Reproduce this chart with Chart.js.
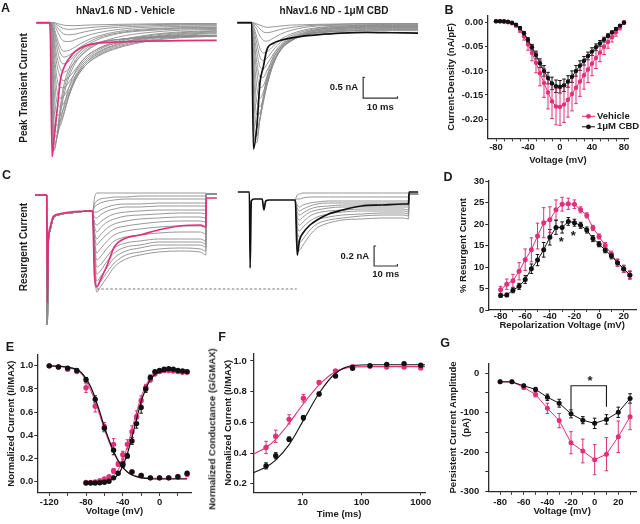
<!DOCTYPE html>
<html>
<head>
<meta charset="utf-8">
<script src="https://cdn.jsdelivr.net/npm/chart.js@4.4.0/dist/chart.umd.min.js"></script>
<style>
  body { margin: 0; background: #fff; }
  #fig { position: relative; width: 640px; height: 524px; overflow: hidden;
         font-family: "Liberation Sans", Arial, Helvetica, sans-serif; color: #1a1a1a; }
  canvas { position: absolute; }
  .t { position: absolute; font-weight: bold; font-size: 10px; line-height: 1; white-space: nowrap;
       transform: translate(-50%, -50%); }
  .letter { font-size: 12.5px; }
  .rot { transform: translate(-50%, -50%) rotate(-90deg); }
</style>
</head>
<body>
<div id="fig">
  <canvas id="cA" width="420" height="170" style="left:0;top:0"></canvas>
  <canvas id="cC" width="420" height="185" style="left:0;top:150px"></canvas>
  <canvas id="cB" width="220" height="175" style="left:420px;top:0"></canvas>
  <canvas id="cD" width="220" height="160" style="left:420px;top:172px"></canvas>
  <canvas id="cE" width="218" height="194" style="left:0;top:330px"></canvas>
  <canvas id="cF" width="220" height="194" style="left:215px;top:330px"></canvas>
  <canvas id="cG" width="210" height="194" style="left:430px;top:330px"></canvas>

  <div class="t letter" style="left:5.5px;top:7.5px">A</div>
  <div class="t letter" style="left:449px;top:10px">B</div>
  <div class="t letter" style="left:6.5px;top:175px">C</div>
  <div class="t letter" style="left:448px;top:177px">D</div>
  <div class="t letter" style="left:10px;top:347px">E</div>
  <div class="t letter" style="left:222px;top:337px">F</div>
  <div class="t letter" style="left:445px;top:343px">G</div>

  <div class="t" style="left:125.5px;top:10.5px">hNav1.6 ND - Vehicle</div>
  <div class="t" style="left:334px;top:10.5px">hNav1.6 ND - 1μM CBD</div>
  <div class="t rot" style="left:23.5px;top:88px">Peak Transient Current</div>
  <div class="t rot" style="left:23.5px;top:247px">Resurgent Current</div>
  <div class="t rot" style="left:211.5px;top:429px;font-size:9.5px">Normalized Conductance (G/GMAX)</div>
</div>

<script>
// ---------- data ----------
// A: peak transient current traces (ms, nA)
const aTimeL = [-3.9, 0, 0.6, 1.2, 2, 3, 4, 5.5, 7.5, 10, 14, 20, 28, 38, 48.6];
const aVehicle = [0, 0, -3.19, -2.75, -2.15, -1.38, -1.08, -0.86, -0.68, -0.56, -0.49, -0.46, -0.44, -0.43, -0.42];
const aGrayL = [
  [0, 0, -2.6, -3.05, -2.7, -2.0, -1.5, -1.1, -0.8, -0.6, -0.47, -0.4, -0.36, -0.34, -0.33],
  [0, 0, -2.2, -3.0, -2.75, -2.1, -1.62, -1.2, -0.88, -0.65, -0.48, -0.4, -0.35, -0.32, -0.31],
  [0, 0, -1.8, -2.9, -2.75, -2.2, -1.75, -1.3, -0.95, -0.7, -0.5, -0.4, -0.34, -0.31, -0.3],
  [0, 0, -1.4, -2.7, -2.7, -2.35, -2.0, -1.55, -1.15, -0.85, -0.62, -0.48, -0.38, -0.33, -0.31],
  [0, 0, -1.0, -2.4, -2.6, -2.45, -2.2, -1.75, -1.35, -1.05, -0.8, -0.6, -0.45, -0.36, -0.32],
  [0, 0, -0.7, -2.0, -2.45, -2.35, -2.15, -1.75, -1.35, -1.05, -0.78, -0.58, -0.43, -0.34, -0.3],
  [0, 0, -0.5, -1.6, -2.2, -2.2, -2.05, -1.7, -1.3, -1.0, -0.75, -0.55, -0.4, -0.3, -0.26],
  [0, 0, -0.35, -1.2, -1.9, -2.0, -1.92, -1.65, -1.3, -1.0, -0.72, -0.52, -0.37, -0.28, -0.24],
  [0, 0, -0.25, -0.9, -1.6, -1.8, -1.75, -1.55, -1.25, -0.95, -0.7, -0.5, -0.35, -0.26, -0.22],
  [0, 0, -0.15, -0.7, -1.3, -1.55, -1.55, -1.42, -1.18, -0.9, -0.66, -0.46, -0.32, -0.24, -0.2],
  [0, 0, -0.1, -0.5, -1.0, -1.3, -1.38, -1.3, -1.1, -0.85, -0.62, -0.43, -0.3, -0.22, -0.19],
  [0, 0, -0.07, -0.37, -0.8, -1.1, -1.18, -1.1, -0.92, -0.72, -0.5, -0.34, -0.24, -0.18, -0.16],
  [0, 0, -0.05, -0.25, -0.6, -0.9, -0.98, -0.92, -0.76, -0.58, -0.4, -0.26, -0.19, -0.15, -0.14],
  [0, 0, -0.03, -0.18, -0.46, -0.72, -0.82, -0.78, -0.66, -0.52, -0.36, -0.24, -0.17, -0.13, -0.12],
  [0, 0, -0.02, -0.12, -0.35, -0.58, -0.68, -0.66, -0.57, -0.45, -0.32, -0.21, -0.15, -0.12, -0.11],
  [0, 0, 0, -0.06, -0.18, -0.35, -0.44, -0.45, -0.4, -0.33, -0.24, -0.16, -0.11, -0.09, -0.08],
  [0, 0, 0, -0.03, -0.1, -0.2, -0.27, -0.29, -0.27, -0.22, -0.16, -0.11, -0.08, -0.06, -0.06],
  [0, 0, 0, -0.01, -0.05, -0.1, -0.14, -0.16, -0.15, -0.13, -0.1, -0.07, -0.05, -0.04, -0.04],
  [0, 0, 0, 0, -0.02, -0.04, -0.06, -0.07, -0.07, -0.06, -0.05, -0.04, -0.03, -0.02, -0.02]
];
const aTimeR = [-4.2, 0, 0.5, 1.5, 2.4, 3.4, 4.4, 6.3, 8.5, 11.2, 15, 19, 26, 33.5, 41, 48.5];
const aCBD = [0, 0, -3.01, -2.48, -1.44, -1.05, -0.65, -0.49, -0.42, -0.37, -0.32, -0.29, -0.25, -0.23, -0.24, -0.25];
const aGrayR = [
  [0, 0, -2.5, -2.85, -2.3, -1.75, -1.3, -0.8, -0.55, -0.4, -0.3, -0.25, -0.21, -0.19, -0.19, -0.19],
  [0, 0, -2.0, -2.7, -2.3, -1.85, -1.4, -0.88, -0.58, -0.42, -0.3, -0.24, -0.2, -0.18, -0.17, -0.17],
  [0, 0, -1.5, -2.5, -2.3, -1.9, -1.5, -0.95, -0.62, -0.44, -0.31, -0.24, -0.19, -0.16, -0.16, -0.16],
  [0, 0, -1.1, -2.2, -2.15, -1.85, -1.5, -0.98, -0.64, -0.45, -0.3, -0.23, -0.17, -0.14, -0.14, -0.14],
  [0, 0, -0.8, -1.9, -2.0, -1.8, -1.5, -1.0, -0.65, -0.45, -0.3, -0.22, -0.16, -0.13, -0.12, -0.12],
  [0, 0, -0.6, -1.55, -1.8, -1.65, -1.4, -0.96, -0.64, -0.44, -0.29, -0.2, -0.14, -0.11, -0.11, -0.11],
  [0, 0, -0.4, -1.2, -1.55, -1.5, -1.3, -0.92, -0.62, -0.42, -0.28, -0.19, -0.13, -0.1, -0.1, -0.1],
  [0, 0, -0.3, -0.95, -1.3, -1.3, -1.15, -0.84, -0.57, -0.39, -0.26, -0.17, -0.12, -0.09, -0.09, -0.09],
  [0, 0, -0.2, -0.7, -1.05, -1.1, -1.0, -0.75, -0.52, -0.36, -0.24, -0.16, -0.11, -0.08, -0.08, -0.08],
  [0, 0, -0.13, -0.5, -0.82, -0.9, -0.85, -0.65, -0.46, -0.32, -0.21, -0.14, -0.09, -0.07, -0.07, -0.07],
  [0, 0, -0.08, -0.35, -0.62, -0.72, -0.7, -0.56, -0.4, -0.28, -0.18, -0.12, -0.08, -0.06, -0.06, -0.06],
  [0, 0, -0.03, -0.16, -0.32, -0.42, -0.44, -0.37, -0.27, -0.19, -0.12, -0.08, -0.06, -0.05, -0.04, -0.04],
  [0, 0, -0.01, -0.07, -0.15, -0.22, -0.24, -0.21, -0.16, -0.12, -0.08, -0.06, -0.04, -0.03, -0.03, -0.03],
  [0, 0, 0, -0.03, -0.06, -0.09, -0.11, -0.1, -0.08, -0.06, -0.05, -0.04, -0.03, -0.02, -0.02, -0.02]
];
const aShiftR = 58.8;
const aBar = { t: 91.3, i: -1.8, dt: 10, di: 0.5 };

// C: resurgent current traces (ms, nA)
const cPreT = [-5, 0, 0.3, 0.6, 1.4, 2.7, 5, 10, 19.5];
const cVehPre = [0, 0, -1.08, -0.5, -0.33, -0.22, -0.19, -0.17, -0.16];
const cGrayPre = [0, 0, -1.3, -0.55, -0.36, -0.24, -0.2, -0.18, -0.16];
const cResT = [19.7, 20.5, 21.5, 23, 26, 29, 34, 40, 48, 57, 66, 68.3];
const cVehRes = [-0.17, -0.8, -0.92, -0.85, -0.7, -0.52, -0.43, -0.4, -0.35, -0.31, -0.3, -0.32];
const cGrayResL = [
  [-0.17, -0.72, -0.97, -0.92, -0.82, -0.72, -0.64, -0.6, -0.57, -0.56, -0.57, -0.6],
  [-0.17, -0.67, -0.92, -0.87, -0.77, -0.68, -0.6, -0.57, -0.54, -0.53, -0.54, -0.56],
  [-0.17, -0.62, -0.86, -0.82, -0.72, -0.63, -0.56, -0.53, -0.5, -0.5, -0.5, -0.52],
  [-0.17, -0.57, -0.79, -0.76, -0.66, -0.58, -0.52, -0.5, -0.47, -0.47, -0.47, -0.49],
  [-0.17, -0.52, -0.72, -0.7, -0.61, -0.53, -0.48, -0.46, -0.44, -0.44, -0.44, -0.46],
  [-0.17, -0.48, -0.65, -0.62, -0.53, -0.46, -0.42, -0.4, -0.38, -0.37, -0.37, -0.39],
  [-0.17, -0.44, -0.58, -0.54, -0.46, -0.4, -0.36, -0.34, -0.32, -0.31, -0.31, -0.32],
  [-0.17, -0.4, -0.5, -0.46, -0.39, -0.34, -0.31, -0.29, -0.27, -0.26, -0.26, -0.27],
  [-0.17, -0.36, -0.44, -0.4, -0.33, -0.29, -0.26, -0.24, -0.23, -0.22, -0.22, -0.23],
  [-0.17, -0.31, -0.37, -0.33, -0.27, -0.24, -0.21, -0.2, -0.19, -0.18, -0.18, -0.19],
  [-0.17, -0.27, -0.3, -0.27, -0.22, -0.19, -0.17, -0.16, -0.15, -0.15, -0.15, -0.15],
  [-0.17, -0.22, -0.23, -0.2, -0.16, -0.14, -0.12, -0.12, -0.11, -0.11, -0.11, -0.11],
  [-0.17, -0.17, -0.17, -0.15, -0.12, -0.1, -0.09, -0.09, -0.08, -0.08, -0.08, -0.08],
  [-0.17, -0.12, -0.1, -0.08, -0.06, -0.05, -0.04, -0.04, -0.04, -0.04, -0.04, -0.04],
  [-0.17, -0.09, -0.06, -0.04, -0.03, -0.02, -0.02, -0.01, -0.01, -0.01, -0.01, -0.01],
  [-0.17, -0.03, 0.02, 0.02, 0.02, 0.02, 0.02, 0.02, 0.02, 0.02, 0.02, 0.02]
];
const cTailT = [68.5, 73];
const cVehTail = [-0.03, -0.03];
const cGrayTail = [0.01, 0.01];
const cCbdPreT = [-5, 0, 0.3, 0.8, 2, 5.5, 6.2, 7, 8.5, 19.5];
const cCbdPre = [0.03, 0.03, -0.73, -0.06, -0.04, -0.04, -0.15, -0.06, -0.05, -0.05];
const cCbdRes = [-0.05, -0.6, -0.45, -0.38, -0.3, -0.25, -0.19, -0.15, -0.11, -0.1, -0.09, -0.09];
const cCbdTailT = [68.5, 72.4];
const cCbdTail = [0.03, 0.03];
const cGrayResR = [
  [-0.05, -0.45, -0.55, -0.5, -0.4, -0.33, -0.28, -0.25, -0.24, -0.23, -0.23, -0.24],
  [-0.05, -0.4, -0.48, -0.44, -0.35, -0.29, -0.25, -0.23, -0.21, -0.2, -0.2, -0.21],
  [-0.05, -0.35, -0.42, -0.38, -0.3, -0.25, -0.22, -0.2, -0.19, -0.18, -0.18, -0.19],
  [-0.05, -0.3, -0.36, -0.32, -0.26, -0.22, -0.19, -0.17, -0.16, -0.16, -0.16, -0.17],
  [-0.05, -0.25, -0.3, -0.27, -0.21, -0.18, -0.16, -0.15, -0.14, -0.14, -0.14, -0.15],
  [-0.05, -0.21, -0.25, -0.22, -0.17, -0.15, -0.13, -0.12, -0.12, -0.12, -0.12, -0.12],
  [-0.05, -0.17, -0.2, -0.18, -0.14, -0.12, -0.11, -0.1, -0.1, -0.1, -0.1, -0.1],
  [-0.05, -0.13, -0.16, -0.14, -0.11, -0.09, -0.08, -0.08, -0.08, -0.08, -0.08, -0.08],
  [-0.05, -0.1, -0.12, -0.1, -0.08, -0.07, -0.06, -0.06, -0.06, -0.06, -0.06, -0.06],
  [-0.05, -0.04, -0.04, -0.03, -0.02, -0.02, -0.02, -0.02, -0.02, -0.02, -0.02, -0.02],
  [-0.05, 0, 0.01, 0.02, 0.02, 0.02, 0.02, 0.02, 0.02, 0.02, 0.02, 0.02]
];
const cShiftR = 87;
const cBar = { t: 140.5, i: -0.71, dt: 10, di: 0.2 };
const cDash = { t0: 21.5, t1: 107.3, level: -0.94 };

// B: current density (nA/pF) vs voltage (mV)
const bVolt = [-80, -75, -70, -65, -60, -55, -50, -45, -40, -35, -30, -25, -20, -15, -10, -5, 0,
  5, 10, 15, 20, 25, 30, 35, 40, 45, 50, 55, 60, 65, 70, 75, 80];
const bVehicle = [0.003, 0.003, 0.002, 0.001, -0.001, -0.006, -0.015, -0.028, -0.045, -0.063, -0.083, -0.105,
  -0.125, -0.145, -0.163, -0.174, -0.175, -0.17, -0.16, -0.148, -0.135, -0.122, -0.109, -0.097, -0.085,
  -0.073, -0.062, -0.05, -0.04, -0.03, -0.02, -0.01, 0.001];
const bVehicleErr = [0.002, 0.002, 0.002, 0.002, 0.002, 0.003, 0.005, 0.008, 0.012, 0.016, 0.021, 0.026, 0.03,
  0.034, 0.036, 0.038, 0.038, 0.037, 0.036, 0.035, 0.033, 0.031, 0.029, 0.027, 0.025, 0.022, 0.019, 0.016,
  0.013, 0.01, 0.008, 0.005, 0.003];
const bCBD = [0.003, 0.003, 0.003, 0.002, 0.0, -0.004, -0.011, -0.022, -0.036, -0.051, -0.067, -0.084, -0.1,
  -0.115, -0.126, -0.132, -0.133, -0.13, -0.122, -0.112, -0.1, -0.089, -0.079, -0.069, -0.06, -0.051, -0.043,
  -0.035, -0.027, -0.02, -0.013, -0.006, 0.0];
const bCBDErr = [0.001, 0.001, 0.001, 0.001, 0.001, 0.002, 0.003, 0.004, 0.005, 0.006, 0.008, 0.009, 0.011,
  0.012, 0.013, 0.013, 0.013, 0.013, 0.012, 0.012, 0.011, 0.01, 0.009, 0.008, 0.008, 0.007, 0.006, 0.005,
  0.004, 0.003, 0.003, 0.002, 0.002];
const bTicksX = [-80, -70, -60, -50, -40, -30, -20, -10, 0, 10, 20, 30, 40, 50, 60, 70, 80];
const bLabelsX = [-80, -40, 0, 40, 80];
const bTicksY = [0, -0.05, -0.1, -0.15, -0.2];

// D: % resurgent current vs repolarization voltage
const dVolt = [-80, -75, -70, -65, -60, -55, -50, -45, -40, -35, -30, -25, -20, -15, -10, -5, 0, 5, 10, 15, 20, 25];
const dVehicle = [4.7, 6.0, 6.8, 9.0, 11.7, 14.0, 17.2, 20.3, 21.0, 23.3, 24.6, 24.7, 24.6, 23.3, 22.0, 19.1,
  17.1, 15.0, 13.0, 11.0, 9.5, 8.2];
const dVehicleErr = [0.8, 1.2, 1.5, 2.0, 2.5, 2.8, 3.0, 3.5, 3.0, 2.3, 1.6, 1.3, 1.0, 0.7, 0.6, 0.6, 0.6, 0.7,
  0.7, 0.8, 0.8, 0.9];
const dCBD = [3.4, 3.5, 4.6, 5.5, 7.1, 9.6, 11.6, 14.0, 16.9, 19.2, 19.2, 20.6, 20.3, 19.7, 18.6, 16.6, 15.3,
  13.9, 12.6, 11.0, 9.6, 8.1];
const dCBDErr = [0.4, 0.4, 0.6, 0.7, 0.9, 1.1, 1.3, 1.7, 1.8, 1.6, 1.3, 0.9, 0.8, 0.7, 0.7, 0.7, 0.6, 0.6,
  0.7, 0.8, 0.8, 0.9];
const dStarX = [-30.7, -20.9];
const dStarY = [16.4, 17.8];
const dTicksX = [-80, -70, -60, -50, -40, -30, -20, -10, 0, 10, 20];
const dLabelsX = [-80, -60, -40, -20, 0, 20];
const dTicksY = [0, 5, 10, 15, 20, 25, 30];

// E: steady-state inactivation (I/Imax) and activation (G/Gmax)
const eInactV = [-120, -110, -100, -90, -80, -70, -60, -50, -40, -30, -20, -10, 0, 10, 20, 30];
const eInactCBD = [1.0, 0.99, 0.98, 0.96, 0.88, 0.71, 0.46, 0.27, 0.15, 0.08, 0.05, 0.03, 0.03, 0.03, 0.04, 0.07];
const eInactCBDErr = [0, 0, 0, 0.01, 0.02, 0.03, 0.03, 0.04, 0.02, 0.01, 0.01, 0.01, 0.01, 0.01, 0.01, 0.01];
const eInactVeh = [1.0, 0.99, 0.97, 0.95, 0.81, 0.65, 0.47, 0.32, 0.16, 0.08, 0.05, 0.03, 0.03, 0.03, 0.04, 0.06];
const eInactVehErr = [0, 0, 0.01, 0.01, 0.04, 0.05, 0.04, 0.05, 0.03, 0.01, 0.01, 0.01, 0.01, 0.01, 0.01, 0.01];
const eActV = [-80, -75, -70, -65, -60, -55, -50, -45, -40, -35, -30, -25, -20, -15, -10, -5, 0, 5, 10, 15, 20, 25, 30];
const eActCBD = [-0.015, -0.015, -0.015, -0.012, -0.008, 0.0, 0.03, 0.07, 0.14, 0.22, 0.35, 0.5, 0.64, 0.8, 0.9,
  0.95, 0.96, 0.97, 0.975, 0.97, 0.96, 0.955, 0.95];
const eActCBDErr = [0, 0, 0, 0, 0, 0.005, 0.01, 0.01, 0.02, 0.02, 0.03, 0.04, 0.05, 0.03, 0.02, 0.01, 0.01, 0.01,
  0.01, 0.01, 0.01, 0.01, 0.01];
const eActVeh = [-0.01, -0.01, -0.005, 0.005, 0.02, 0.04, 0.09, 0.15, 0.23, 0.32, 0.43, 0.56, 0.7, 0.81, 0.88,
  0.93, 0.95, 0.96, 0.96, 0.955, 0.95, 0.945, 0.945];
const eActVehErr = [0, 0, 0, 0, 0.005, 0.01, 0.02, 0.02, 0.03, 0.04, 0.05, 0.05, 0.04, 0.03, 0.02, 0.01, 0.01,
  0.01, 0.01, 0.01, 0.01, 0.01, 0.01];
const eFitInactV = [-122, -110, -100, -90, -85, -80, -75, -70, -65, -60, -55, -50, -45, -40, -35, -30, -25, -20, -10, 0, 10, 30];
const eFitInactCBD = [1.0, 0.998, 0.99, 0.97, 0.94, 0.89, 0.82, 0.72, 0.6, 0.47, 0.36, 0.26, 0.18, 0.12, 0.08,
  0.055, 0.04, 0.03, 0.022, 0.02, 0.02, 0.02];
const eFitInactVeh = [1.0, 0.995, 0.985, 0.96, 0.93, 0.87, 0.79, 0.69, 0.57, 0.45, 0.34, 0.25, 0.17, 0.12, 0.08,
  0.055, 0.045, 0.035, 0.028, 0.025, 0.025, 0.025];
const eFitActV = [-80, -70, -60, -55, -50, -45, -40, -35, -30, -25, -20, -15, -10, -5, 0, 5, 10, 20, 30];
const eFitActCBD = [-0.015, -0.013, -0.005, 0.005, 0.025, 0.06, 0.13, 0.24, 0.38, 0.54, 0.69, 0.8, 0.88, 0.925,
  0.945, 0.955, 0.96, 0.962, 0.962];
const eFitActVeh = [-0.01, -0.005, 0.01, 0.025, 0.05, 0.1, 0.18, 0.3, 0.45, 0.6, 0.73, 0.83, 0.89, 0.925, 0.94,
  0.948, 0.95, 0.952, 0.952];
const eTicksX = [-120, -100, -80, -60, -40, -20, 0, 20];
const eLabelsX = [-120, -80, -40, 0];
const eTicksY = [0, 0.2, 0.4, 0.6, 0.8, 1.0];

// F: recovery from inactivation (I/Imax) vs time (ms)
const fTime = [2.4, 3.5, 5.9, 10.3, 19, 36, 70, 138, 265, 522, 1000];
const fVehicle = [0.437, 0.51, 0.62, 0.757, 0.86, 0.935, 0.962, 0.965, 0.96, 0.96, 0.955];
const fVehicleErr = [0.04, 0.04, 0.03, 0.025, 0.012, 0.008, 0.006, 0.005, 0.005, 0.005, 0.006];
const fCBD = [0.317, 0.383, 0.49, 0.63, 0.785, 0.902, 0.952, 0.97, 0.978, 0.983, 0.972];
const fCBDErr = [0.02, 0.02, 0.015, 0.015, 0.012, 0.01, 0.008, 0.006, 0.006, 0.006, 0.006];
const fFitT = [1.46, 2.4, 3.5, 5.9, 10, 19, 36, 70, 150, 1180];
const fFitVeh = [0.395, 0.437, 0.49, 0.595, 0.715, 0.845, 0.93, 0.96, 0.963, 0.963];
const fFitCBD = [0.272, 0.31, 0.355, 0.455, 0.605, 0.79, 0.92, 0.97, 0.975, 0.975];
const fTicksX = [10, 100, 1000];
const fTicksY = [0.2, 0.4, 0.6, 0.8, 1.0];

// G: persistent current amplitude (pA) vs voltage (mV)
const gVolt = [-80, -70, -60, -50, -40, -30, -20, -10, 0, 10, 20, 30];
const gCBD = [-22, -22, -32, -41, -61, -76, -103, -119, -127, -117, -99, -64];
const gCBDErr = [2, 2, 4, 5, 8, 10, 10, 9, 13, 12, 13, 12];
const gVehicle = [-22, -22, -36, -54, -89, -120, -176, -197, -219, -205, -161, -110];
const gVehicleErr = [2, 2, 5, 6, 13, 18, 28, 30, 38, 42, 40, 33];
const gBracketX = [-20, -20, 10, 10];
const gBracketY = [-93, -32, -32, -85];
const gStar = { x: -4, y: -13 };
const gTicksX = [-80, -70, -60, -50, -40, -30, -20, -10, 0, 10, 20, 30];
const gLabelsX = [-80, -60, -40, -20, 0, 20];
const gTicksY = [0, -50, -100, -150, -200, -250, -300];
const gLabelsY = [0, -100, -200, -300];

// ---------- styling ----------
const ink = '#1a1a1a';
const axisInk = '#2b2b2b';
const pink = '#e0307a';
const blk = '#111111';
const gray = '#8c8c8c';
const fontFam = '"Liberation Sans", Arial, Helvetica, sans-serif';

Chart.defaults.font.family = fontFam;
Chart.defaults.font.weight = 'bold';
Chart.defaults.color = ink;

function pts(xs, ys, dx = 0) {
  return xs.map((x, i) => ({ x: x + dx, y: ys[i] }));
}

function series(xs, ys, color, extra = {}) {
  return Object.assign({
    data: pts(xs, ys),
    borderColor: color, backgroundColor: color,
    pointBackgroundColor: color, pointBorderWidth: 0,
    pointRadius: 2.4, borderWidth: 1, tension: 0
  }, extra);
}

function trace(data, color, width) {
  return { data, borderColor: color, borderWidth: width, pointRadius: 0,
           fill: false, cubicInterpolationMode: 'monotone' };
}

const errorBars = {
  id: 'errorBars',
  beforeDatasetsDraw(chart) {
    const { ctx, scales: { x, y } } = chart;
    chart.data.datasets.forEach(ds => {
      if (!ds.errors) return;
      ctx.save();
      ctx.strokeStyle = ds.borderColor;
      ctx.lineWidth = 1;
      ds.data.forEach((p, i) => {
        const e = ds.errors[i];
        if (!e) return;
        const px = x.getPixelForValue(p.x);
        const y1 = y.getPixelForValue(p.y + e), y2 = y.getPixelForValue(p.y - e);
        ctx.beginPath();
        ctx.moveTo(px, y1); ctx.lineTo(px, y2);
        ctx.moveTo(px - 1.8, y1); ctx.lineTo(px + 1.8, y1);
        ctx.moveTo(px - 1.8, y2); ctx.lineTo(px + 1.8, y2);
        ctx.stroke();
      });
      ctx.restore();
    });
  }
};

function axis(o) {
  const labels = o.labels || o.ticks;
  return {
    type: o.log ? 'logarithmic' : 'linear',
    bounds: 'data',
    min: o.min, max: o.max,
    afterFit: s => { if (s.isHorizontal()) s.height = o.size; else s.width = o.size; },
    afterBuildTicks: s => { s.ticks = o.ticks.map(v => ({ value: v })); },
    ticks: {
      autoSkip: false, maxRotation: 0, minRotation: 0, padding: o.tickPad, color: ink,
      font: { size: 9.5, weight: 'bold', lineHeight: 1 },
      callback: v => labels.includes(v) ? o.fmt(v) : ''
    },
    grid: { drawOnChartArea: false, drawTicks: true, tickLength: o.tickLen || 3, color: axisInk, lineWidth: 1 },
    border: { display: true, color: axisInk, width: 1.3 },
    title: {
      display: true, text: o.title, color: ink,
      font: { size: 9.5, weight: 'bold', lineHeight: o.titleLH || 1.2 },
      padding: { top: o.titlePad, bottom: o.titlePad }
    }
  };
}

function plot(id, datasets, x, y, pad, extra = []) {
  return new Chart(document.getElementById(id), {
    type: 'line',
    data: { datasets },
    options: {
      responsive: false, animation: false, devicePixelRatio: 1,
      layout: { padding: pad },
      plugins: { legend: { display: false }, tooltip: { enabled: false } },
      scales: { x, y }
    },
    plugins: [errorBars, ...extra]
  });
}

function traceChart(id, datasets, xr, yr, extra) {
  return new Chart(document.getElementById(id), {
    type: 'line',
    data: { datasets },
    options: {
      responsive: false, animation: false, devicePixelRatio: 1,
      layout: { padding: 0 },
      plugins: { legend: { display: false }, tooltip: { enabled: false } },
      scales: {
        x: { type: 'linear', display: false, min: xr[0], max: xr[1] },
        y: { type: 'linear', display: false, min: yr[0], max: yr[1] }
      }
    },
    plugins: extra
  });
}

function scaleBar(bar, yText, xText) {
  return {
    id: 'scaleBar',
    afterDatasetsDraw(chart) {
      const { ctx, scales: { x, y } } = chart;
      const xa = x.getPixelForValue(bar.t), xb = x.getPixelForValue(bar.t + bar.dt);
      const ya = y.getPixelForValue(bar.i + bar.di), yb = y.getPixelForValue(bar.i);
      ctx.save();
      ctx.strokeStyle = '#333';
      ctx.lineWidth = 1.2;
      ctx.beginPath();
      ctx.moveTo(xa + 2, ya); ctx.lineTo(xa, ya); ctx.lineTo(xa, yb); ctx.lineTo(xb, yb); ctx.lineTo(xb, yb - 2);
      ctx.stroke();
      ctx.fillStyle = ink;
      ctx.font = 'bold 9.5px ' + fontFam;
      ctx.textAlign = 'right'; ctx.textBaseline = 'middle';
      ctx.fillText(yText, xa - 5, (ya + yb) / 2);
      ctx.textAlign = 'center'; ctx.textBaseline = 'top';
      ctx.fillText(xText, (xa + xb) / 2, yb + 4);
      ctx.restore();
    }
  };
}

function stars(xs, ys) {
  return {
    id: 'stars',
    afterDatasetsDraw(chart) {
      const { ctx, scales: { x, y } } = chart;
      ctx.save();
      ctx.fillStyle = ink;
      ctx.font = 'bold 13px ' + fontFam;
      ctx.textAlign = 'center'; ctx.textBaseline = 'middle';
      xs.forEach((v, i) => ctx.fillText('*', x.getPixelForValue(v), y.getPixelForValue(ys[i]) + 3));
      ctx.restore();
    }
  };
}

// ---------- A: transient current traces ----------
const aSets = [
  trace(pts(aTimeL, aVehicle), pink, 1.7),
  trace(pts(aTimeR, aCBD, aShiftR), blk, 1.7),
  ...aGrayL.map(g => trace(pts(aTimeL, g), gray, 0.9)),
  ...aGrayR.map(g => trace(pts(aTimeR, g, aShiftR), gray, 0.9))
];
traceChart('cA', aSets, [-14.58, 107.87], [-3.51, 0.54], [scaleBar(aBar, '0.5 nA', '10 ms')]);

// ---------- C: resurgent current traces ----------
const cDashed = {
  id: 'dashed',
  afterDatasetsDraw(chart) {
    const { ctx, scales: { x, y } } = chart;
    const py = y.getPixelForValue(cDash.level);
    ctx.save();
    ctx.strokeStyle = '#777';
    ctx.lineWidth = 1;
    ctx.setLineDash([2.5, 2]);
    ctx.beginPath();
    ctx.moveTo(x.getPixelForValue(cDash.t0), py);
    ctx.lineTo(x.getPixelForValue(cDash.t1), py);
    ctx.stroke();
    ctx.restore();
  }
};
const cSets = [
  trace(pts(cPreT.concat(cResT, cTailT), cVehPre.concat(cVehRes, cVehTail)), pink, 1.7),
  trace(pts(cCbdPreT.concat(cResT, cCbdTailT), cCbdPre.concat(cCbdRes, cCbdTail), cShiftR), blk, 1.7),
  ...cGrayResL.map(g => trace(pts(cPreT.concat(cResT, cTailT), cGrayPre.concat(g, cGrayTail)), gray, 0.9)),
  ...cGrayResR.map(g => trace(pts(cResT.concat(cCbdTailT), g.concat(cGrayTail), cShiftR), gray, 0.9))
];
traceChart('cC', cSets, [-20.04, 160.2], [-1.4, 0.45], [scaleBar(cBar, '0.2 nA', '10 ms'), cDashed]);

// ---------- B: I-V ----------
const bLegend = {
  id: 'bLegend',
  afterDatasetsDraw(chart) {
    const { ctx, chartArea } = chart;
    const rows = [chart.data.datasets[1], chart.data.datasets[0]];
    ctx.save();
    ctx.font = 'bold 9.5px ' + fontFam;
    ctx.textBaseline = 'middle';
    rows.forEach((ds, i) => {
      const yy = chartArea.bottom - 22 + i * 10.5;
      const x0 = chartArea.left + 94;
      ctx.strokeStyle = ds.borderColor; ctx.lineWidth = 1;
      ctx.beginPath(); ctx.moveTo(x0, yy); ctx.lineTo(x0 + 13, yy); ctx.stroke();
      ctx.fillStyle = ds.borderColor;
      ctx.beginPath(); ctx.arc(x0 + 6.5, yy, 2.4, 0, Math.PI * 2); ctx.fill();
      ctx.fillStyle = ink;
      ctx.fillText(ds.label, x0 + 15, yy);
    });
    ctx.restore();
  }
};
plot('cB', [
  series(bVolt, bCBD, blk, { label: '1μM CBD', errors: bCBDErr, pointRadius: 2.2 }),
  series(bVolt, bVehicle, pink, { label: 'Vehicle', errors: bVehicleErr, pointRadius: 2.2 })
],
  axis({ min: -90, max: 85, size: 36.7, ticks: bTicksX, labels: bLabelsX, fmt: v => String(v),
         tickPad: 1, title: 'Voltage (mV)', titlePad: 9.3 }),
  axis({ min: -0.24, max: 0.015, size: 68, ticks: bTicksY, fmt: v => v.toFixed(2),
         tickPad: 1.7, title: 'Current-Density (nA/pF)', titlePad: 25.3 }),
  { top: 15.5, right: 12, left: 0, bottom: 0 }, [bLegend]);

// ---------- D: % resurgent ----------
plot('cD', [
  series(dVolt, dCBD, blk, { errors: dCBDErr, pointRadius: 2.5 }),
  series(dVolt, dVehicle, pink, { errors: dVehicleErr, pointRadius: 2.5 })
],
  axis({ min: -90, max: 30, size: 22, ticks: dTicksX, labels: dLabelsX, fmt: v => String(v),
         tickPad: 0, tickLen: 2, title: 'Repolarization Voltage (mV)', titlePad: 1.3 }),
  axis({ min: 0, max: 30, size: 68.3, ticks: dTicksY, fmt: v => String(v),
         tickPad: 1, title: '% Resurgent Current', titlePad: 37.6 }),
  { top: 9, right: 4, left: 0, bottom: 0 }, [stars(dStarX, dStarY)]);

// ---------- E: inactivation / activation ----------
plot('cE', [
  series(eInactV, eInactCBD, blk, { errors: eInactCBDErr, showLine: false, pointRadius: 2.7 }),
  series(eActV, eActCBD, blk, { errors: eActCBDErr, showLine: false, pointRadius: 2.7 }),
  series(eFitInactV, eFitInactCBD, blk, { pointRadius: 0, borderWidth: 1.2, cubicInterpolationMode: 'monotone' }),
  series(eFitActV, eFitActCBD, blk, { pointRadius: 0, borderWidth: 1.2, cubicInterpolationMode: 'monotone' }),
  series(eInactV, eInactVeh, pink, { errors: eInactVehErr, showLine: false, pointRadius: 2.7 }),
  series(eActV, eActVeh, pink, { errors: eActVehErr, showLine: false, pointRadius: 2.7 }),
  series(eFitInactV, eFitInactVeh, pink, { pointRadius: 0, borderWidth: 1, cubicInterpolationMode: 'monotone' }),
  series(eFitActV, eFitActVeh, pink, { pointRadius: 0, borderWidth: 1, cubicInterpolationMode: 'monotone' })
],
  axis({ min: -133, max: 35, size: 31.15, ticks: eTicksX, labels: eLabelsX, fmt: v => String(v),
         tickPad: 2.1, title: 'Voltage (mV)', titlePad: 6.6 }),
  axis({ min: -0.1, max: 1.1, size: 37.3, ticks: eTicksY, fmt: v => v.toFixed(1),
         tickPad: 1, title: 'Normalized Current (I/IMAX)', titlePad: 6 }),
  { top: 24.3, right: 26.3, left: 0, bottom: 0 });

// ---------- F: recovery ----------
plot('cF', [
  series(fTime, fCBD, blk, { errors: fCBDErr, showLine: false, pointRadius: 2.7 }),
  series(fFitT, fFitCBD, blk, { pointRadius: 0, borderWidth: 1.1, cubicInterpolationMode: 'monotone' }),
  series(fTime, fVehicle, pink, { errors: fVehicleErr, showLine: false, pointRadius: 2.7 }),
  series(fFitT, fFitVeh, pink, { pointRadius: 0, borderWidth: 1.1, cubicInterpolationMode: 'monotone' })
],
  axis({ log: true, min: 1.46, max: 1180, size: 31.7, ticks: fTicksX, fmt: v => String(v),
         tickPad: 2.3, title: 'Time (ms)', titlePad: 4.3 }),
  axis({ min: 0.145, max: 1.05, size: 38.3, ticks: fTicksY, fmt: v => v.toFixed(1),
         tickPad: 3.6, title: 'Normalized Current (I/IMAX)', titlePad: 7.6 }),
  { top: 23.3, right: 10, left: 0, bottom: 0 });

// ---------- G: persistent current ----------
const gBracket = {
  id: 'gBracket',
  afterDatasetsDraw(chart) {
    const { ctx, scales: { x, y } } = chart;
    ctx.save();
    ctx.strokeStyle = ink;
    ctx.lineWidth = 1.1;
    ctx.beginPath();
    gBracketX.forEach((v, i) => {
      const px = x.getPixelForValue(v), py = y.getPixelForValue(gBracketY[i]);
      if (i === 0) ctx.moveTo(px, py); else ctx.lineTo(px, py);
    });
    ctx.stroke();
    ctx.restore();
  }
};
plot('cG', [
  series(gVolt, gCBD, blk, { errors: gCBDErr, pointRadius: 2.5 }),
  series(gVolt, gVehicle, pink, { errors: gVehicleErr, pointRadius: 2.5 })
],
  axis({ min: -90, max: 35, size: 32.3, ticks: gTicksX, labels: gLabelsX, fmt: v => String(v),
         tickPad: 3.2, title: 'Voltage (mV)', titlePad: 6.6 }),
  axis({ min: -300, max: 25, size: 58.3, ticks: gTicksY, labels: gLabelsY, fmt: v => String(v),
         tickPad: 6, title: ['Persistent Current Amplitude', '(pA)'], titleLH: 1.4, titlePad: 16.6 }),
  { top: 33.3, right: 0.8, left: 0, bottom: 0 }, [gBracket, stars([gStar.x], [gStar.y])]);
</script>
</body>
</html>
